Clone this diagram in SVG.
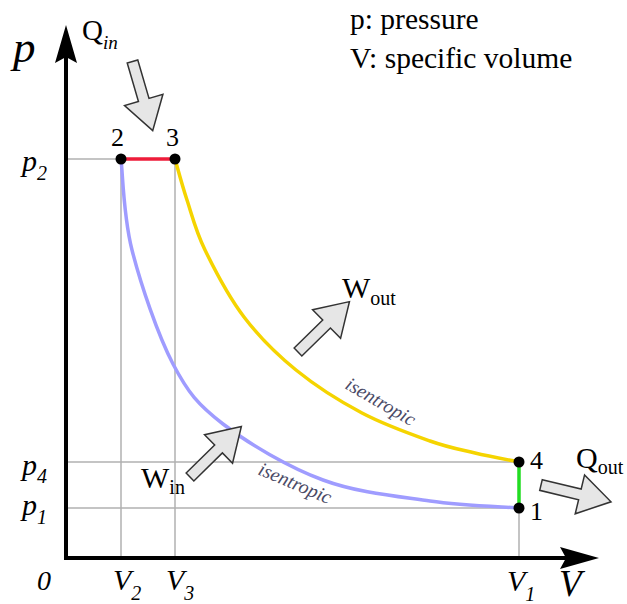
<svg xmlns="http://www.w3.org/2000/svg" xmlns:xlink="http://www.w3.org/1999/xlink" width="627" height="604" viewBox="0 0 627 604">
<style>
.t{font-family:"Liberation Serif","Times New Roman",serif;fill:#000}
.it{font-style:italic}
.guide{stroke:#b0b0b0;stroke-width:1.5;fill:none}
.axis{stroke:#000;stroke-width:4;fill:none}
.proc{fill:none;stroke-width:3.5;stroke-linecap:round}
.blk{fill:#e6e6e6;stroke:#333;stroke-width:1.5;stroke-linejoin:miter}
.isen{font-family:"Liberation Serif","Times New Roman",serif;font-style:italic;font-size:19.5px;fill:#4a4a66}
</style>
<defs>
<path id="blkArrow" class="blk" d="M0,-5.5 L40,-5.5 L40,-20 L72,0 L40,20 L40,5.5 L0,5.5 Z"/>
</defs>
<rect width="627" height="604" fill="#fff"/>
<g id="guides">
<line class="guide" x1="66" y1="159" x2="121" y2="159"/>
<line class="guide" x1="66" y1="462" x2="519" y2="462"/>
<line class="guide" x1="66" y1="508" x2="519" y2="508"/>
<line class="guide" x1="121" y1="159" x2="121" y2="558"/>
<line class="guide" x1="175" y1="159" x2="175" y2="558"/>
<line class="guide" x1="519" y1="508" x2="519" y2="558"/>
</g>
<g id="axes">
<line class="axis" x1="66" y1="560" x2="66" y2="50"/>
<line class="axis" x1="64" y1="558" x2="575" y2="558"/>
<path d="M66,25 L77,63 L66,57 L55,63 Z" fill="#000"/>
<path d="M599,558 L560,569 L566,558 L560,547 Z" fill="#000"/>
<text class="t it" x="13" y="62" font-size="45">p</text>
<text class="t it" x="559" y="596" font-size="37">V</text>
<text class="t it" x="37" y="590" font-size="28">0</text>
<text class="t it" x="22" y="171" font-size="30">p<tspan font-size="20" dy="9">2</tspan></text>
<text class="t it" x="22" y="475" font-size="30">p<tspan font-size="20" dy="8">4</tspan></text>
<text class="t it" x="22" y="515" font-size="30">p<tspan font-size="20" dy="9">1</tspan></text>
<text class="t it" x="113" y="590" font-size="30">V<tspan font-size="20" dy="10">2</tspan></text>
<text class="t it" x="166" y="590" font-size="30">V<tspan font-size="20" dy="10">3</tspan></text>
<text class="t it" x="507" y="591" font-size="30">V<tspan font-size="20" dy="10">1</tspan></text>
</g>
<g id="connectors">
<path id="c12" class="proc" stroke="#9f9cff" d="M121,159 C122.8,174.2 123.3,215.8 132,250 C140.7,284.2 157.8,335 173,364 C188.2,393 198,404.7 223,424 C248,443.3 288.5,467.2 323,480 C357.5,492.8 397.3,496.3 430,501 C462.7,505.7 504.2,506.8 519,508"/>
<path id="c23" class="proc" stroke="#ee1c3a" d="M121,159 L175,159"/>
<path id="c34" class="proc" stroke="#f5d400" d="M175,159 C177,165.8 182,184.8 187,200 C192,215.2 195.5,230.5 205,250 C214.5,269.5 228.8,297 244,317 C259.2,337 276.3,354 296,370 C315.7,386 339.7,401.2 362,413 C384.3,424.8 411.2,434.3 430,441 C448.8,447.7 460.2,449.5 475,453 C489.8,456.5 511.7,460.5 519,462"/>
<path id="c41" class="proc" stroke="#22dd22" d="M519,462 L519,508"/>
<text class="isen" x="344" y="388" transform="rotate(30 344 388)">isentropic</text>
<text class="isen" x="257" y="474" transform="rotate(23 257 474)">isentropic</text>
</g>
<g id="node2"><circle cx="121" cy="159" r="5.5" fill="#000"/><text class="t" x="111" y="146" font-size="26">2</text></g>
<g id="node3"><circle cx="175" cy="159" r="5.5" fill="#000"/><text class="t" x="166" y="146" font-size="26">3</text></g>
<g id="node4"><circle cx="519" cy="462" r="5.5" fill="#000"/><text class="t" x="530" y="469" font-size="26">4</text></g>
<g id="node1"><circle cx="519" cy="508" r="5.5" fill="#000"/><text class="t" x="530" y="520" font-size="26">1</text></g>
<g id="heat-work">
<use xlink:href="#blkArrow" transform="translate(132.5,61.5) rotate(73.7)"/>
<use xlink:href="#blkArrow" transform="translate(298,352) rotate(-44.4)"/>
<use xlink:href="#blkArrow" transform="translate(190,477) rotate(-44.5)"/>
<use xlink:href="#blkArrow" transform="translate(541,485) rotate(13.5)"/>
<text class="t" x="82" y="40" font-size="29">Q<tspan class="it" font-size="19" dy="9">in</tspan></text>
<text class="t" x="342" y="298" font-size="30">W<tspan font-size="20" dy="7">out</tspan></text>
<text class="t" x="141" y="488" font-size="30">W<tspan font-size="20" dy="6">in</tspan></text>
<text class="t" x="576" y="468" font-size="30">Q<tspan font-size="20" dy="6">out</tspan></text>
</g>
<g id="legend">
<text class="t" x="350" y="29" font-size="29.5">p: pressure</text>
<text class="t" x="350" y="68" font-size="29.5">V: specific volume</text>
</g>
</svg>
